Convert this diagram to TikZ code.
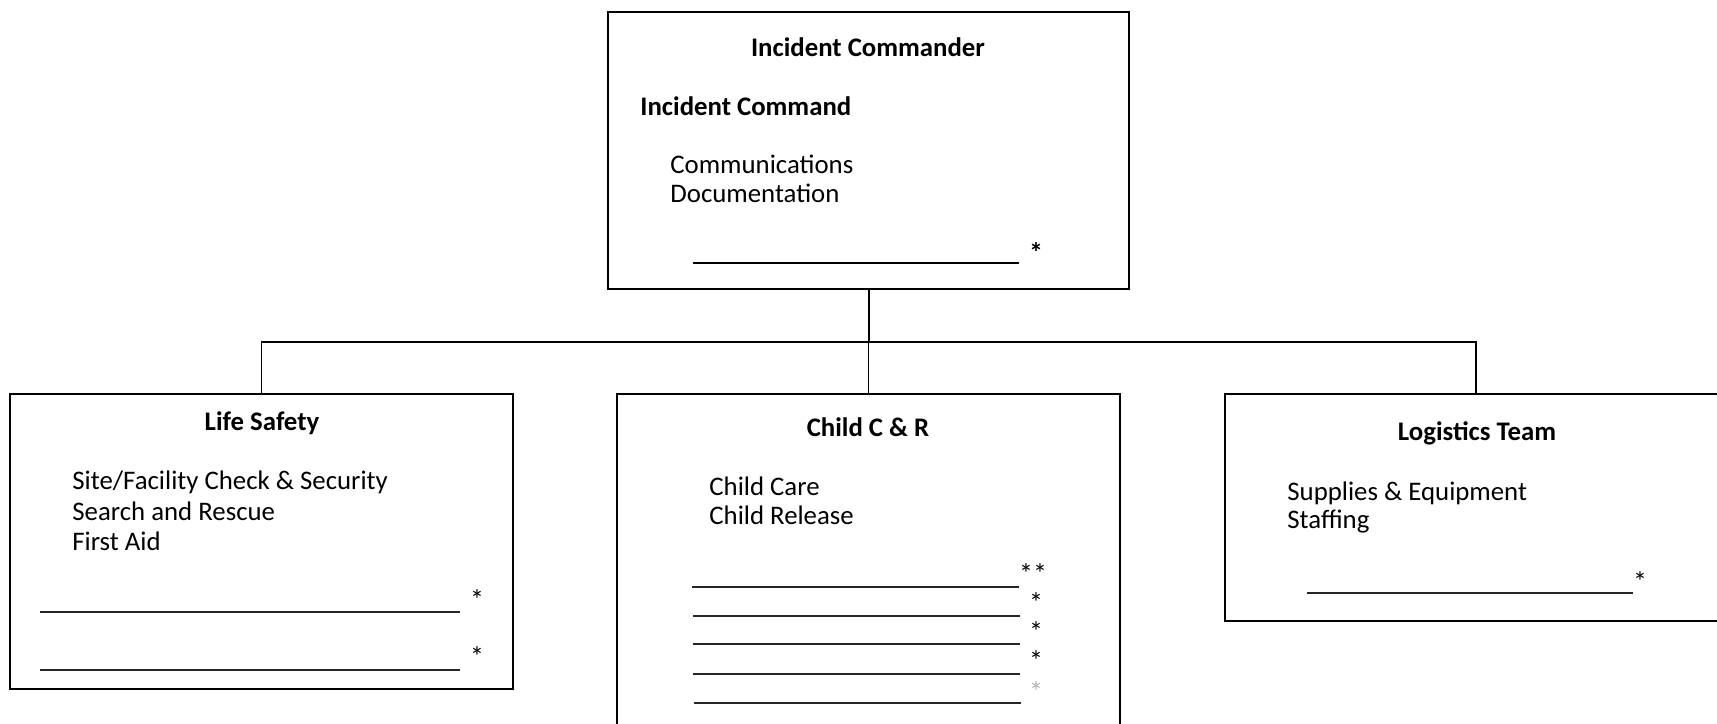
\documentclass[tikz,border=0pt]{standalone}
\usepackage{fontspec}
\setmainfont{Carlito}

\begin{document}
\begin{tikzpicture}[x=0.5pt, y=-0.5pt,
		unitbox/.style={draw, line width=1pt, minimum width=251.5pt, inner sep=0pt, outer sep=0pt},
		title/.style={font=\bfseries\fontsize{13.4}{16}\selectfont, inner sep=0pt},
		item/.style={anchor=west, font=\fontsize{13.4}{16}\selectfont, inner sep=0pt},
		star/.style={font=\fontsize{14}{16}\selectfont, inner sep=0pt},
		blank/.style={line width=0.65pt, draw=black!85}]
		\useasboundingbox (0,0) rectangle (1717,723);
		
		\node [unitbox, minimum width=260.5pt, minimum height=138.5pt] (ic) at (868.5,150.5) {};
		\node [unitbox, minimum height=147.5pt] (ls) at (261.5,541.5) {};
		\node [unitbox, minimum height=190pt] (cr) at (868.5,584) {};
		\node [unitbox, minimum height=113.5pt] (lt) at (1476,507.5) {};
		
		\coordinate (bus) at (868.5,342);
		\draw [line width=1pt] (ic.south) -- (bus);
		\draw [line width=0.8pt] (bus) -- (cr.north);
		\draw [line width=0.8pt] (ls.north) |- (bus) -| (lt.north);
		
		\node [title] (ic-t) at (868,47) {Incident Commander};
		\node [title, anchor=west] (ic-s) at (640,106) {Incident Command};
		\node [item] (ic-a) at (670,164) {Communications};
		\node [item] (ic-b) at (670,193) {Documentation};
		\draw [line width=1pt] (693,263) -- (1019,263);
		\node [star] (ic-x) at (1036,252) {\bfseries *};
		
		\node [title] (ls-t) at (262,423) {Life Safety};
		\node [item] (ls-a) at (72,482) {Site/Facility Check \& Security};
		\node [item] (ls-b) at (72,511) {Search and Rescue};
		\node [item] (ls-c) at (72,541) {First Aid};
		\draw [blank] (40,612) -- (460,612);
		\draw [blank] (40,670) -- (460,670);
		\node [star] (ls-x) at (477,600) {*};
		\node [star] (ls-y) at (477,657) {*};
		
		\node [title] (cr-t) at (868,427) {Child C \& R};
		\node [item] (cr-a) at (709,486) {Child Care};
		\node [item] (cr-b) at (709,515) {Child Release};
		\draw [blank] (692,587) -- (1019,587);
		\draw [blank] (693,616) -- (1020,616);
		\draw [blank] (693,644) -- (1020,644);
		\draw [blank] (693,674) -- (1020,674);
		\draw [blank] (694,703) -- (1021,703);
		\node [star] (cr-x) at (1033,574) {**};
		\node [star] (cr-y) at (1036,603) {*};
		\node [star] (cr-z) at (1036,632) {*};
		\node [star] (cr-w) at (1036,661) {*};
		\node [star, text=black!30] (cr-v) at (1036,692) {*};
		
		\node [title] (lt-t) at (1477,433) {Logistics Team};
		\node [item] (lt-a) at (1287,493) {Supplies \& Equipment};
		\node [item] (lt-b) at (1287,522) {Staffing};
		\draw [blank] (1307,593) -- (1633,593);
		\node [star] (lt-x) at (1640,582) {*};
		
\end{tikzpicture}
\end{document}
